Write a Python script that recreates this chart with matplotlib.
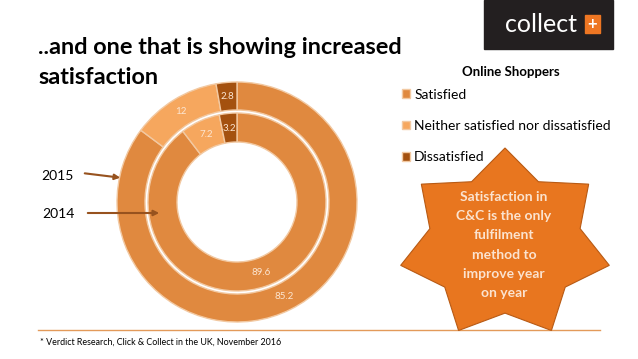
import numpy as np
import matplotlib
matplotlib.use("Agg")
import matplotlib.pyplot as plt
from matplotlib.patches import Polygon, Rectangle

plt.rcParams['font.family'] = ['Lato', 'DejaVu Sans']

# data
categories = ['Satisfied', 'Neither satisfied nor dissatisfied', 'Dissatisfied']
values_2015 = [85.2, 12, 2.8]   # outer ring
values_2014 = [89.6, 7.2, 3.2]  # inner ring
label_2015 = ['85.2', '12', '2.8']
label_2014 = ['89.6', '7.2', '3.2']
colors = ['#E0893F', '#F6A75E', '#A4510F']

W, H = 638, 359
fig = plt.figure(figsize=(W / 100, H / 100), dpi=100)
fig.patch.set_facecolor('white')

# background / decoration layer in pixel coords
bg = fig.add_axes([0, 0, 1, 1])
bg.set_xlim(0, W)
bg.set_ylim(H, 0)
bg.axis('off')

# title
bg.text(38, 48, '..and one that is showing increased', fontsize=16.9, fontweight='bold',
        va='center', ha='left', color='black')
bg.text(38, 78, 'satisfaction', fontsize=16.9, fontweight='bold',
        va='center', ha='left', color='black')

# logo
bg.add_patch(Rectangle((484, 0), 129, 49, color='#231F20', zorder=1))
bg.text(541, 25, 'collect', color='white', fontsize=18, ha='center', va='center', zorder=2)
bg.add_patch(Rectangle((585, 15), 15, 18, color='#EE7623', zorder=2))
bg.text(592.5, 24.5, '+', color='white', fontsize=12, fontweight='bold', ha='center', va='center', zorder=3)

# bottom rule + footnote
bg.plot([38, 600], [330, 330], color='#E39A5A', lw=1)
bg.text(40, 342, '* Verdict Research, Click & Collect in the UK, November 2016',
        fontsize=6.4, va='center', ha='left', color='black')

# year labels
bg.text(41, 176, '2015', fontsize=10, va='center', ha='left')
bg.text(42, 214, '2014', fontsize=10, va='center', ha='left')

# star callout (7 points, slightly squashed)
cx, cy, rx, ry, inner = 505, 244, 107, 96, 0.72
pts = []
for k in range(14):
    a = np.pi * k / 7
    r = 1.0 if k % 2 == 0 else inner
    pts.append((cx + rx * r * np.sin(a), cy - ry * r * np.cos(a)))
bg.add_patch(Polygon(pts, closed=True, facecolor='#E8761F', edgecolor='#B85A14', lw=0.8, zorder=4))
star_text = ['Satisfaction in', 'C&C is the only', 'fulfilment', 'method to',
             'improve year', 'on year']
for i, line in enumerate(star_text):
    bg.text(504, 197 + i * 19.2, line, color='#FBE3CF', fontsize=10, fontweight='bold',
            ha='center', va='center', zorder=5)

# legend title
bg.text(511, 72, 'Online Shoppers', fontsize=9.5, fontweight='bold', ha='center', va='center')

# doughnut
R = 120
ax = fig.add_axes([(237 - R) / W, (H - 202 - R) / H, 2 * R / W, 2 * R / H])
outer, _ = ax.pie(values_2015, radius=1.0, colors=colors, startangle=90, counterclock=False,
                  wedgeprops=dict(width=28 / R, edgecolor='#F2C9A2', linewidth=1))
inner_w, _ = ax.pie(values_2014, radius=89 / R, colors=colors, startangle=90, counterclock=False,
                    wedgeprops=dict(width=29 / R, edgecolor='#F2C9A2', linewidth=1))
ax.set_xlim(-1, 1)
ax.set_ylim(-1, 1)


def put_labels(wedges, labels, rmid):
    for w, lab in zip(wedges, labels):
        ang = np.deg2rad((w.theta1 + w.theta2) / 2)
        ax.text(rmid * np.cos(ang), rmid * np.sin(ang), lab, color='#FCE6D2',
                fontsize=7, ha='center', va='center')


put_labels(outer, label_2015, 106 / R)
put_labels(inner_w, label_2014, 74 / R)

# arrows on top of the doughnut
top = fig.add_axes([0, 0, 1, 1])
top.set_xlim(0, W)
top.set_ylim(H, 0)
top.axis('off')
top.patch.set_alpha(0)
top.annotate('', xy=(123, 178), xytext=(82, 173),
             arrowprops=dict(arrowstyle='-|>', color='#97521E', lw=1.5, mutation_scale=8))
top.annotate('', xy=(162, 213), xytext=(85, 213),
             arrowprops=dict(arrowstyle='-|>', color='#97521E', lw=1.5, mutation_scale=8))

# legend
fig.legend(outer, categories, loc='upper left',
           bbox_to_anchor=(392 / W, 1 - 79 / H), frameon=False, fontsize=10,
           handlelength=0.6, handleheight=0.6, handletextpad=0.3, labelspacing=1.38,
           borderpad=0.2)

fig.savefig('out.png', dpi=100, facecolor='white')
